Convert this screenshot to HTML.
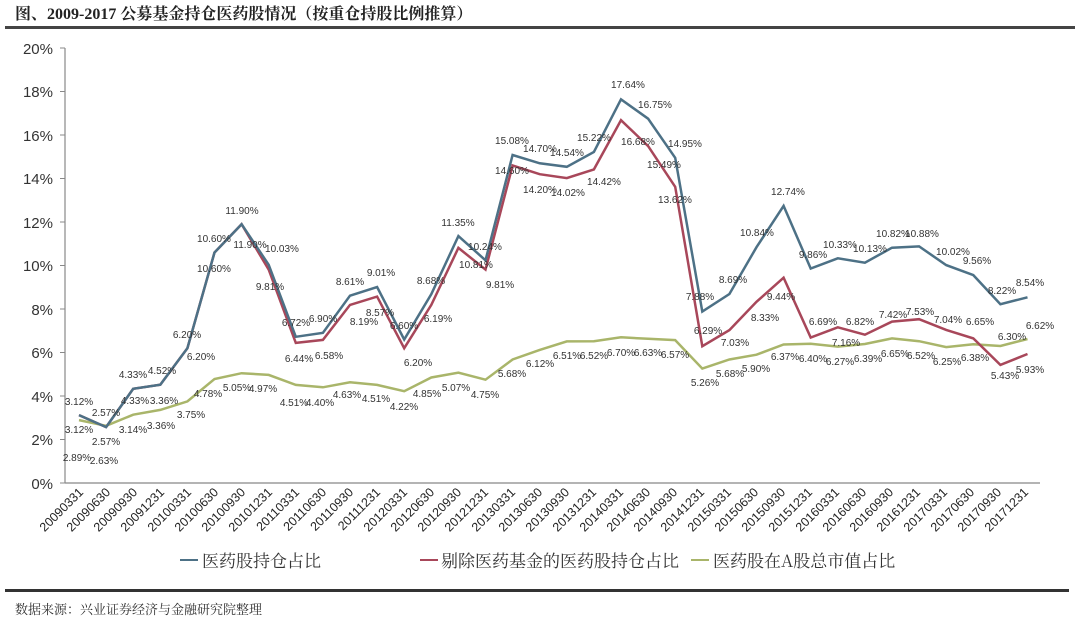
<!DOCTYPE html>
<html><head><meta charset="utf-8"><style>
body{margin:0;background:#fff;width:1080px;height:624px;overflow:hidden}
svg{display:block}
text{font-family:"Liberation Sans","Noto Sans CJK SC",sans-serif}
.v{font-size:10px;fill:#333;text-anchor:middle}
.yl{font-size:15px;fill:#333;text-anchor:end}
.xl{font-size:12.5px;fill:#222;text-anchor:end}
.lg{font-size:17px;fill:#333;font-family:"Noto Serif CJK SC","Noto Sans CJK SC",serif}
</style></head><body>
<svg width="1080" height="624" viewBox="0 0 1080 624">
<text x="15" y="19" style="font-size:16px;font-weight:bold;fill:#222;font-family:'Liberation Serif','Noto Serif CJK SC',serif">图、2009-2017 公募基金持仓医药股情况（按重仓持股比例推算）</text>
<rect x="5" y="26" width="1070" height="3" fill="#444"/>
<line x1="65" y1="48" x2="65" y2="483" stroke="#888" stroke-width="1.2"/>
<line x1="65" y1="483" x2="1040" y2="483" stroke="#888" stroke-width="1.2"/>
<g stroke="#888"><line x1="60" y1="48" x2="65" y2="48"/><line x1="60" y1="91.5" x2="65" y2="91.5"/><line x1="60" y1="135" x2="65" y2="135"/><line x1="60" y1="178.5" x2="65" y2="178.5"/><line x1="60" y1="222" x2="65" y2="222"/><line x1="60" y1="265.5" x2="65" y2="265.5"/><line x1="60" y1="309" x2="65" y2="309"/><line x1="60" y1="352.5" x2="65" y2="352.5"/><line x1="60" y1="396" x2="65" y2="396"/><line x1="60" y1="439.5" x2="65" y2="439.5"/><line x1="60" y1="483" x2="65" y2="483"/></g>
<g class="yl"><text x="53" y="54">20%</text><text x="53" y="97">18%</text><text x="53" y="141">16%</text><text x="53" y="184">14%</text><text x="53" y="228">12%</text><text x="53" y="271">10%</text><text x="53" y="315">8%</text><text x="53" y="358">6%</text><text x="53" y="402">4%</text><text x="53" y="445">2%</text><text x="53" y="489">0%</text></g>
<polyline fill="none" stroke="#a9b56a" stroke-width="2.5" points="79,420.1 106.1,425.8 133.2,414.7 160.3,409.9 187.4,401.4 214.5,379 241.6,373.2 268.7,374.9 295.8,384.9 322.9,387.3 350,382.3 377.1,384.9 404.2,391.2 431.3,377.5 458.4,372.7 485.5,379.7 512.6,359.5 539.7,349.9 566.8,341.4 593.9,341.2 621,337.3 648.1,338.8 675.2,340.1 702.3,368.6 729.4,359.5 756.5,354.7 783.6,344.5 810.7,343.8 837.8,346.6 864.9,344 892,338.4 919.1,341.2 946.2,347.1 973.3,344.2 1000.4,346 1027.5,339"/>
<polyline fill="none" stroke="#a8475a" stroke-width="2.5" points="79,415.1 106.1,427.1 133.2,388.8 160.3,384.7 187.4,348.2 214.5,252.5 241.6,224.2 268.7,269.6 295.8,342.9 322.9,339.9 350,304.9 377.1,296.6 404.2,348.2 431.3,304.9 458.4,247.9 485.5,269.6 512.6,165.5 539.7,174.2 566.8,178.1 593.9,169.4 621,120.2 648.1,146.1 675.2,186.8 702.3,346.2 729.4,330.1 756.5,301.8 783.6,277.7 810.7,337.5 837.8,327.3 864.9,334.7 892,321.6 919.1,319.2 946.2,329.9 973.3,338.4 1000.4,364.9 1027.5,354"/>
<polyline fill="none" stroke="#4d7186" stroke-width="2.5" points="79,415.1 106.1,427.1 133.2,388.8 160.3,384.7 187.4,348.2 214.5,252.5 241.6,224.2 268.7,264.8 295.8,336.8 322.9,332.9 350,295.7 377.1,287 404.2,339.5 431.3,294.2 458.4,236.1 485.5,260.3 512.6,155 539.7,163.3 566.8,166.8 593.9,152 621,99.3 648.1,118.7 675.2,157.8 702.3,311.6 729.4,294 756.5,247.2 783.6,205.9 810.7,268.5 837.8,258.3 864.9,262.7 892,247.7 919.1,246.4 946.2,265.1 973.3,275.1 1000.4,304.2 1027.5,297.3"/>
<g class="v">
<text x="79" y="405">3.12%</text><text x="106" y="416">2.57%</text><text x="133" y="378">4.33%</text><text x="162" y="374">4.52%</text><text x="187" y="338">6.20%</text><text x="214" y="242">10.60%</text><text x="242" y="214">11.90%</text><text x="282" y="252">10.03%</text><text x="296" y="326">6.72%</text><text x="323" y="322">6.90%</text><text x="350" y="285">8.61%</text><text x="381" y="276">9.01%</text><text x="404" y="329">6.60%</text><text x="431" y="284">8.68%</text><text x="458" y="226">11.35%</text><text x="485" y="250">10.24%</text><text x="512" y="144">15.08%</text><text x="540" y="152">14.70%</text><text x="567" y="156">14.54%</text><text x="594" y="141">15.22%</text><text x="628" y="88">17.64%</text><text x="655" y="108">16.75%</text><text x="685" y="147">14.95%</text><text x="700" y="300">7.88%</text><text x="733" y="283">8.69%</text><text x="757" y="236">10.84%</text><text x="788" y="195">12.74%</text><text x="813" y="258">9.86%</text><text x="840" y="248">10.33%</text><text x="870" y="252">10.13%</text><text x="893" y="237">10.82%</text><text x="922" y="237">10.88%</text><text x="953" y="255">10.02%</text><text x="977" y="264">9.56%</text><text x="1002" y="294">8.22%</text><text x="1030" y="286">8.54%</text>
</g>
<g class="v">
<text x="79" y="433">3.12%</text><text x="106" y="445">2.57%</text><text x="135" y="404">4.33%</text><text x="164" y="404">3.36%</text><text x="201" y="360">6.20%</text><text x="214" y="272">10.60%</text><text x="250" y="248">11.90%</text><text x="270" y="290">9.81%</text><text x="299" y="362">6.44%</text><text x="329" y="359">6.58%</text><text x="364" y="325">8.19%</text><text x="380" y="316">8.57%</text><text x="418" y="366">6.20%</text><text x="438" y="322">6.19%</text><text x="476" y="268">10.81%</text><text x="500" y="288">9.81%</text><text x="512" y="174">14.60%</text><text x="540" y="193">14.20%</text><text x="568" y="196">14.02%</text><text x="604" y="185">14.42%</text><text x="638" y="145">16.68%</text><text x="664" y="168">15.49%</text><text x="675" y="203">13.62%</text><text x="708" y="334">6.29%</text><text x="735" y="346">7.03%</text><text x="765" y="321">8.33%</text><text x="781" y="300">9.44%</text><text x="823" y="325">6.69%</text><text x="846" y="346">7.16%</text><text x="860" y="325">6.82%</text><text x="893" y="318">7.42%</text><text x="920" y="315">7.53%</text><text x="948" y="323">7.04%</text><text x="980" y="325">6.65%</text><text x="1005" y="379">5.43%</text><text x="1030" y="373">5.93%</text>
</g>
<g class="v">
<text x="77" y="461">2.89%</text><text x="104" y="464">2.63%</text><text x="133" y="433">3.14%</text><text x="161" y="429">3.36%</text><text x="191" y="418">3.75%</text><text x="208" y="397">4.78%</text><text x="237" y="391">5.05%</text><text x="263" y="392">4.97%</text><text x="294" y="406">4.51%</text><text x="320" y="406">4.40%</text><text x="347" y="398">4.63%</text><text x="376" y="402">4.51%</text><text x="404" y="410">4.22%</text><text x="427" y="397">4.85%</text><text x="456" y="391">5.07%</text><text x="485" y="398">4.75%</text><text x="512" y="377">5.68%</text><text x="540" y="367">6.12%</text><text x="567" y="359">6.51%</text><text x="594" y="359">6.52%</text><text x="621" y="356">6.70%</text><text x="648" y="356">6.63%</text><text x="675" y="358">6.57%</text><text x="705" y="386">5.26%</text><text x="730" y="377">5.68%</text><text x="756" y="372">5.90%</text><text x="785" y="360">6.37%</text><text x="813" y="362">6.40%</text><text x="840" y="365">6.27%</text><text x="868" y="362">6.39%</text><text x="895" y="357">6.65%</text><text x="921" y="359">6.52%</text><text x="947" y="365">6.25%</text><text x="975" y="361">6.38%</text><text x="1012" y="340">6.30%</text><text x="1040" y="329">6.62%</text>
</g>
<g class="xl">
<text transform="translate(84,493) rotate(-45)">20090331</text><text transform="translate(111,493) rotate(-45)">20090630</text><text transform="translate(138,493) rotate(-45)">20090930</text><text transform="translate(165,493) rotate(-45)">20091231</text><text transform="translate(192,493) rotate(-45)">20100331</text><text transform="translate(219,493) rotate(-45)">20100630</text><text transform="translate(246,493) rotate(-45)">20100930</text><text transform="translate(273,493) rotate(-45)">20101231</text><text transform="translate(300,493) rotate(-45)">20110331</text><text transform="translate(327,493) rotate(-45)">20110630</text><text transform="translate(354,493) rotate(-45)">20110930</text><text transform="translate(381,493) rotate(-45)">20111231</text><text transform="translate(408,493) rotate(-45)">20120331</text><text transform="translate(435,493) rotate(-45)">20120630</text><text transform="translate(462,493) rotate(-45)">20120930</text><text transform="translate(489,493) rotate(-45)">20121231</text><text transform="translate(516,493) rotate(-45)">20130331</text><text transform="translate(543,493) rotate(-45)">20130630</text><text transform="translate(570,493) rotate(-45)">20130930</text><text transform="translate(597,493) rotate(-45)">20131231</text><text transform="translate(624,493) rotate(-45)">20140331</text><text transform="translate(651,493) rotate(-45)">20140630</text><text transform="translate(678,493) rotate(-45)">20140930</text><text transform="translate(705,493) rotate(-45)">20141231</text><text transform="translate(732,493) rotate(-45)">20150331</text><text transform="translate(759,493) rotate(-45)">20150630</text><text transform="translate(786,493) rotate(-45)">20150930</text><text transform="translate(813,493) rotate(-45)">20151231</text><text transform="translate(840,493) rotate(-45)">20160331</text><text transform="translate(867,493) rotate(-45)">20160630</text><text transform="translate(894,493) rotate(-45)">20160930</text><text transform="translate(921,493) rotate(-45)">20161231</text><text transform="translate(948,493) rotate(-45)">20170331</text><text transform="translate(975,493) rotate(-45)">20170630</text><text transform="translate(1002,493) rotate(-45)">20170930</text><text transform="translate(1029,493) rotate(-45)">20171231</text>
</g>
<line x1="180" y1="560" x2="198" y2="560" stroke="#4d7186" stroke-width="2"/>
<text class="lg" x="202" y="567">医药股持仓占比</text>
<line x1="420" y1="560" x2="438" y2="560" stroke="#a8475a" stroke-width="2"/>
<text class="lg" x="441" y="567">剔除医药基金的医药股持仓占比</text>
<line x1="691" y1="560" x2="709" y2="560" stroke="#a9b56a" stroke-width="2"/>
<text class="lg" x="713" y="567">医药股在A股总市值占比</text>
<rect x="5" y="589" width="1064" height="3" fill="#333"/>
<text x="15" y="614" style="font-size:13px;fill:#333;font-family:'Noto Serif CJK SC','Noto Sans CJK SC',serif">数据来源：兴业证券经济与金融研究院整理</text>
</svg>
</body></html>
